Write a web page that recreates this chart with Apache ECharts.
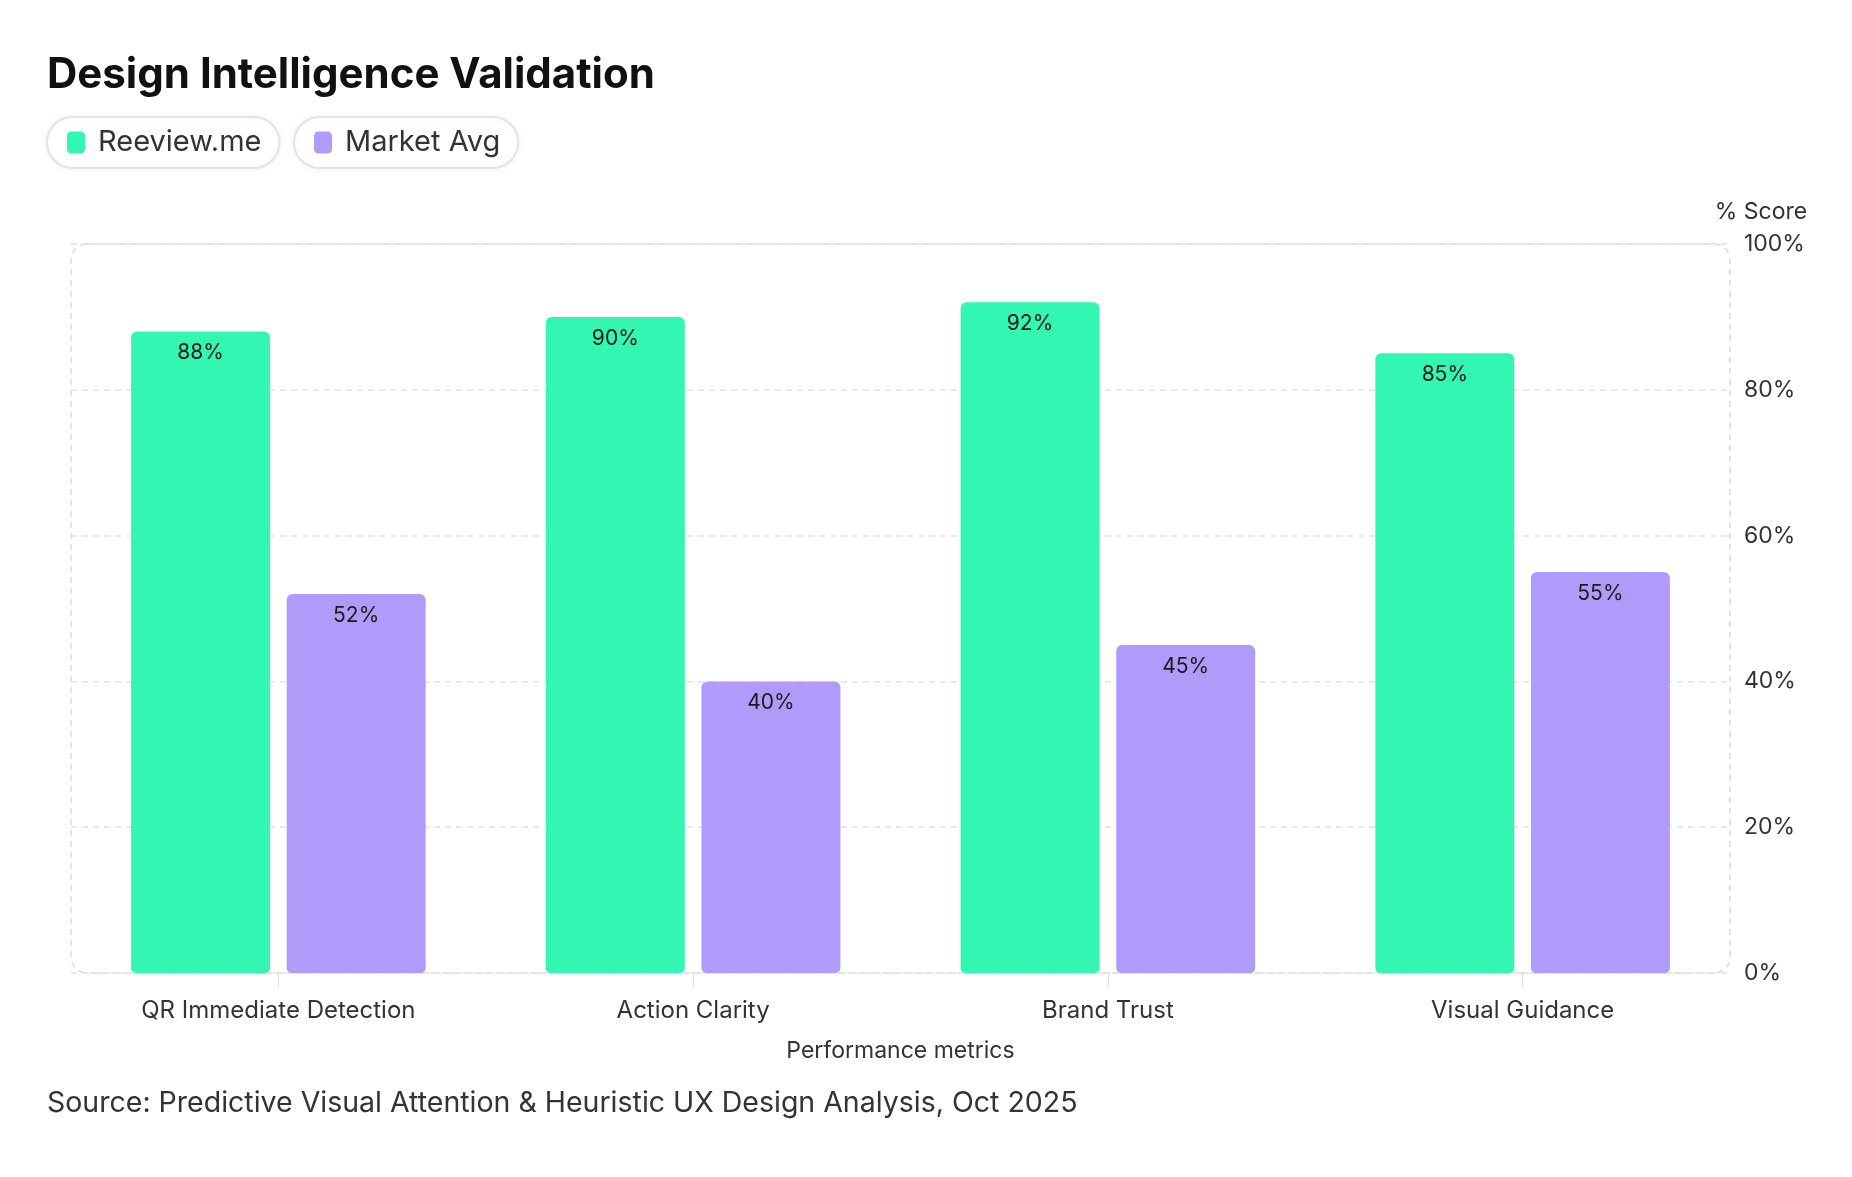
<!DOCTYPE html>
<html style="height: 100%">
<head>
    <meta charset="utf-8">
    <title>Design Intelligence Validation</title>
</head>
<body style="height: 100%; margin: 0; background: #fff;">
<div id="container" style="width: 1852px; height: 1177px"></div>
<script src="https://cdn.jsdelivr.net/npm/echarts@6/dist/echarts.min.js"></script>
<script type="text/javascript">

    var categories = ['QR Immediate Detection', 'Action Clarity', 'Brand Trust', 'Visual Guidance'];
    var reeviewScores = [88, 90, 92, 85];
    var marketScores = [52, 40, 45, 55];
    var seriesNames = ['Reeview.me', 'Market Avg'];
    var seriesColors = ['#33F6B2', '#B19BFA'];

    var font = 'Inter, "Noto Sans", sans-serif';

    var dom = document.getElementById("container");
    var myChart = echarts.init(dom);

    // plot box, also used for the dashed rounded frame
    var gridBox = { left: 71, right: 122, top: 244, bottom: 204 };

    function pillLegend(name, left) {
        return {
            data: [name],
            left: left,
            top: 117,
            orient: 'horizontal',
            padding: [11, 18, 11, 20],
            borderColor: '#e4e4e4',
            borderWidth: 2,
            borderRadius: 26,
            backgroundColor: '#fff',
            shadowColor: 'rgba(0,0,0,0.06)',
            shadowBlur: 6,
            icon: 'roundRect',
            itemWidth: 18,
            itemHeight: 22,
            selectedMode: false,
            textStyle: {
                fontFamily: font,
                fontSize: 29,
                color: '#333',
                padding: [0, 0, 0, 8]
            }
        };
    }

    var option = {
        backgroundColor: '#fff',
        textStyle: { fontFamily: font },
        title: [
            {
                text: 'Design Intelligence Validation',
                left: 42,
                top: 49,
                textStyle: { fontFamily: font, fontSize: 42, fontWeight: 'bold', color: '#111' }
            },
            {
                text: 'Source: Predictive Visual Attention & Heuristic UX Design Analysis, Oct 2025',
                left: 42,
                top: 1084,
                textStyle: { fontFamily: font, fontSize: 28.5, fontWeight: 'normal', color: '#333' }
            }
        ],
        legend: [pillLegend(seriesNames[0], 47), pillLegend(seriesNames[1], 294)],
        graphic: [
            {
                type: 'rect',
                silent: true,
                z: -1,
                shape: {
                    x: gridBox.left,
                    y: gridBox.top,
                    width: 1852 - gridBox.left - gridBox.right,
                    height: 1177 - gridBox.top - gridBox.bottom,
                    r: 16
                },
                style: { fill: 'none', stroke: '#dcdcdc', lineWidth: 1.5, lineDash: [6, 5] }
            }
        ],
        grid: {
            left: gridBox.left,
            right: gridBox.right,
            top: gridBox.top,
            bottom: gridBox.bottom
        },
        xAxis: {
            type: 'category',
            data: categories,
            name: 'Performance metrics',
            nameLocation: 'middle',
            nameGap: 67,
            nameTextStyle: { fontFamily: font, fontSize: 23, color: '#333' },
            axisLine: { show: false },
            axisTick: { show: true, alignWithLabel: true, length: 14, lineStyle: { color: '#dcdcdc' } },
            axisLabel: { fontFamily: font, fontSize: 24, color: '#333', margin: 26 }
        },
        yAxis: {
            type: 'value',
            position: 'right',
            min: 0,
            max: 100,
            interval: 20,
            name: '% Score',
            nameLocation: 'end',
            nameGap: 20,
            nameTextStyle: { fontFamily: font, fontSize: 23, color: '#333', align: 'center', padding: [0, 0, 0, 62] },
            axisLine: { show: false },
            axisTick: { show: false },
            axisLabel: { formatter: '{value}%', fontFamily: font, fontSize: 23, color: '#333', margin: 14 },
            splitLine: { lineStyle: { color: '#e2e2e2', type: [6, 5], width: 1.5 } }
        },
        series: [
            {
                name: seriesNames[0],
                type: 'bar',
                data: reeviewScores,
                barWidth: '33.5%',
                barGap: '12%',
                itemStyle: { color: seriesColors[0], borderRadius: [6, 6, 5, 5] },
                label: {
                    show: true,
                    position: 'insideTop',
                    distance: 11,
                    formatter: '{c}%',
                    fontFamily: font,
                    fontSize: 21,
                    color: '#1a1a1a'
                }
            },
            {
                name: seriesNames[1],
                type: 'bar',
                data: marketScores,
                barWidth: '33.5%',
                itemStyle: { color: seriesColors[1], borderRadius: [6, 6, 5, 5] },
                label: {
                    show: true,
                    position: 'insideTop',
                    distance: 11,
                    formatter: '{c}%',
                    fontFamily: font,
                    fontSize: 21,
                    color: '#1a1a1a'
                }
            }
        ]
    };

    myChart.setOption(option, true);

</script>
</body>
</html>
